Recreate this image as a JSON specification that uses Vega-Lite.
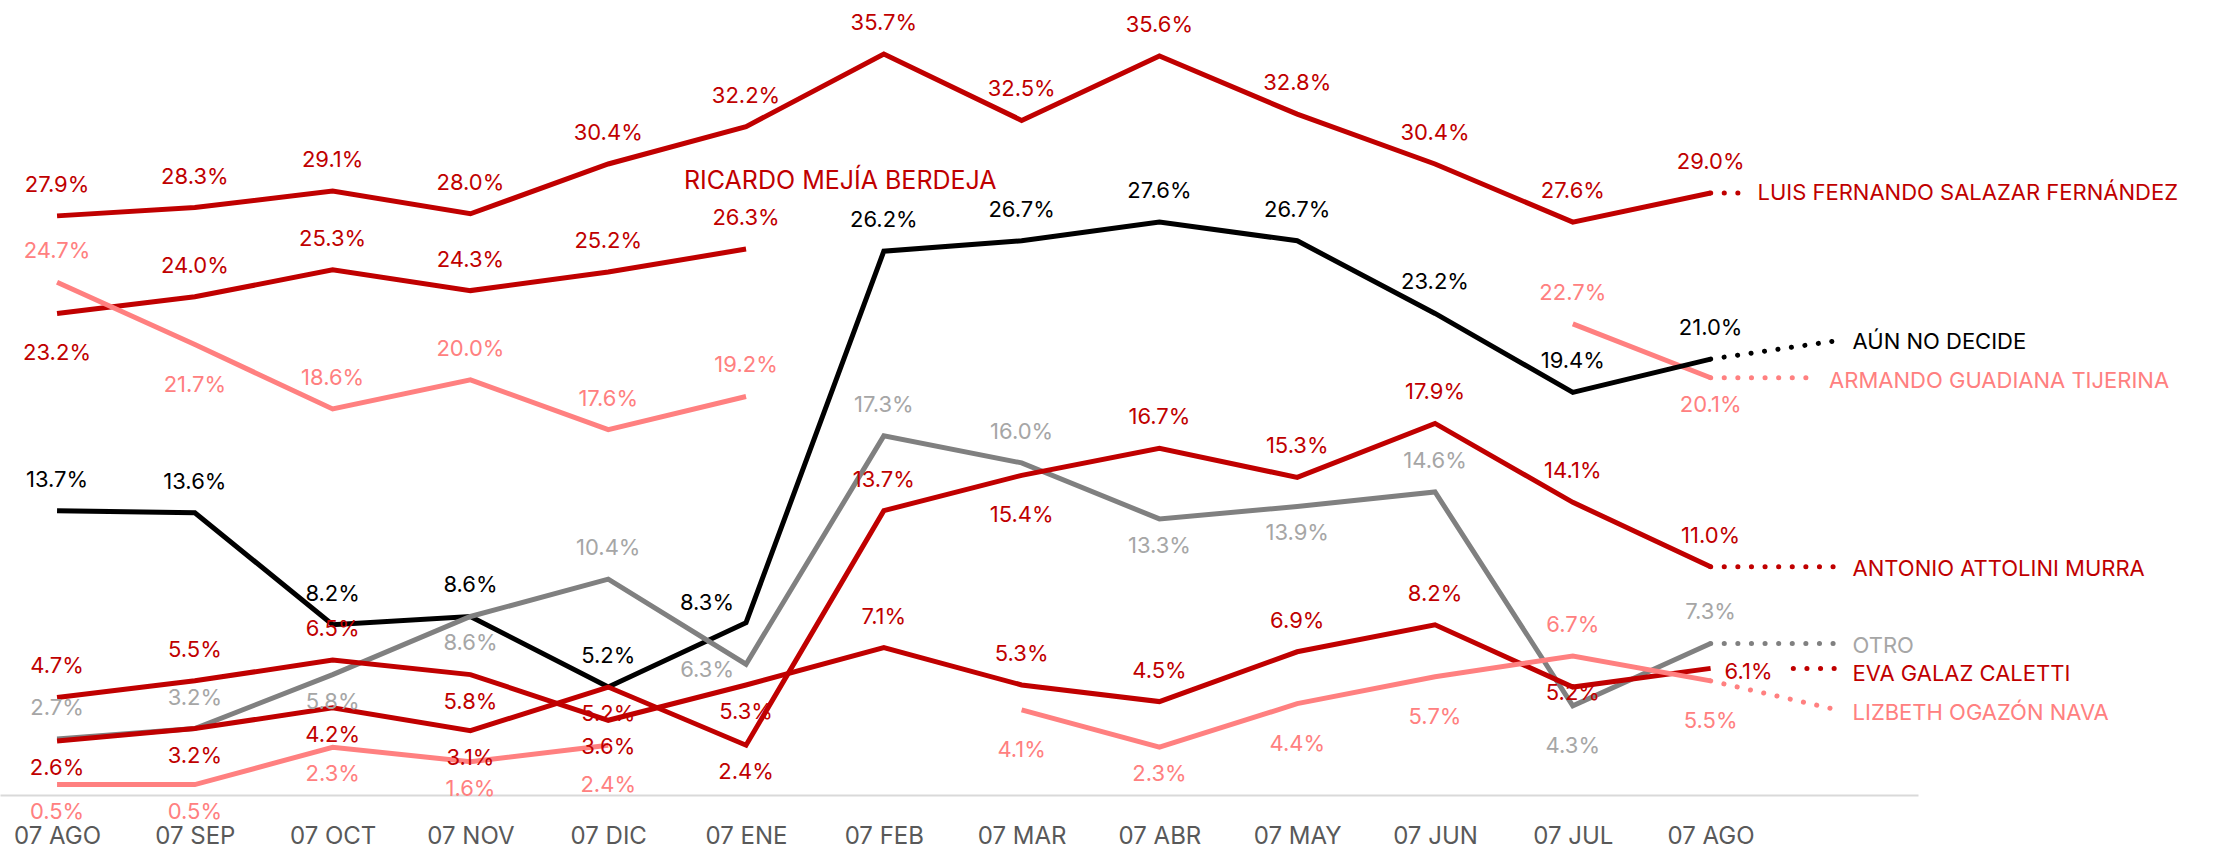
{
  "$schema": "https://vega.github.io/schema/vega-lite/v6.json",
  "width": 1918,
  "height": 795,
  "autosize": "none",
  "padding": {"left": 0, "top": 0, "right": 318, "bottom": 56},
  "background": "white",
  "config": {"view": {"stroke": null}, "font": "Inter", "text": {"font": "Inter"}},
  "datasets": {
    "polls": [
      {"s": "Luis", "i": 0, "v": 27.9, "lado": "up"},
      {"s": "Luis", "i": 1, "v": 28.3, "lado": "up"},
      {"s": "Luis", "i": 2, "v": 29.1, "lado": "up"},
      {"s": "Luis", "i": 3, "v": 28.0, "lado": "up"},
      {"s": "Luis", "i": 4, "v": 30.4, "lado": "up"},
      {"s": "Luis", "i": 5, "v": 32.2, "lado": "up"},
      {"s": "Luis", "i": 6, "v": 35.7, "lado": "up"},
      {"s": "Luis", "i": 7, "v": 32.5, "lado": "up"},
      {"s": "Luis", "i": 8, "v": 35.6, "lado": "up"},
      {"s": "Luis", "i": 9, "v": 32.8, "lado": "up"},
      {"s": "Luis", "i": 10, "v": 30.4, "lado": "up"},
      {"s": "Luis", "i": 11, "v": 27.6, "lado": "up"},
      {"s": "Luis", "i": 12, "v": 29.0, "lado": "up"},
      {"s": "Ricardo", "i": 0, "v": 23.2, "lado": "downfar"},
      {"s": "Ricardo", "i": 1, "v": 24.0, "lado": "up"},
      {"s": "Ricardo", "i": 2, "v": 25.3, "lado": "up"},
      {"s": "Ricardo", "i": 3, "v": 24.3, "lado": "up"},
      {"s": "Ricardo", "i": 4, "v": 25.2, "lado": "up"},
      {"s": "Ricardo", "i": 5, "v": 26.3, "lado": "up"},
      {"s": "Armando", "i": 0, "v": 24.7, "lado": "up"},
      {"s": "Armando", "i": 1, "v": 21.7, "lado": "downfar"},
      {"s": "Armando", "i": 2, "v": 18.6, "lado": "up"},
      {"s": "Armando", "i": 3, "v": 20.0, "lado": "up"},
      {"s": "Armando", "i": 4, "v": 17.6, "lado": "up"},
      {"s": "Armando", "i": 5, "v": 19.2, "lado": "up"},
      {"s": "Armando", "i": 6, "v": null, "lado": "up"},
      {"s": "Armando", "i": 7, "v": null, "lado": "up"},
      {"s": "Armando", "i": 8, "v": null, "lado": "up"},
      {"s": "Armando", "i": 9, "v": null, "lado": "up"},
      {"s": "Armando", "i": 10, "v": null, "lado": "up"},
      {"s": "Armando", "i": 11, "v": 22.7, "lado": "up"},
      {"s": "Armando", "i": 12, "v": 20.1, "lado": "down"},
      {"s": "Aun", "i": 0, "v": 13.7, "lado": "up"},
      {"s": "Aun", "i": 1, "v": 13.6, "lado": "up"},
      {"s": "Aun", "i": 2, "v": 8.2, "lado": "up"},
      {"s": "Aun", "i": 3, "v": 8.6, "lado": "up"},
      {"s": "Aun", "i": 4, "v": 5.2, "lado": "up"},
      {"s": "Aun", "i": 5, "v": 8.3, "lado": "upleft"},
      {"s": "Aun", "i": 6, "v": 26.2, "lado": "up"},
      {"s": "Aun", "i": 7, "v": 26.7, "lado": "up"},
      {"s": "Aun", "i": 8, "v": 27.6, "lado": "up"},
      {"s": "Aun", "i": 9, "v": 26.7, "lado": "up"},
      {"s": "Aun", "i": 10, "v": 23.2, "lado": "up"},
      {"s": "Aun", "i": 11, "v": 19.4, "lado": "up"},
      {"s": "Aun", "i": 12, "v": 21.0, "lado": "up"},
      {"s": "Otro", "i": 0, "v": 2.7, "lado": "up"},
      {"s": "Otro", "i": 1, "v": 3.2, "lado": "up"},
      {"s": "Otro", "i": 2, "v": 5.8, "lado": "down"},
      {"s": "Otro", "i": 3, "v": 8.6, "lado": "down"},
      {"s": "Otro", "i": 4, "v": 10.4, "lado": "up"},
      {"s": "Otro", "i": 5, "v": 6.3, "lado": "left"},
      {"s": "Otro", "i": 6, "v": 17.3, "lado": "up"},
      {"s": "Otro", "i": 7, "v": 16.0, "lado": "up"},
      {"s": "Otro", "i": 8, "v": 13.3, "lado": "down"},
      {"s": "Otro", "i": 9, "v": 13.9, "lado": "down"},
      {"s": "Otro", "i": 10, "v": 14.6, "lado": "up"},
      {"s": "Otro", "i": 11, "v": 4.3, "lado": "downfar"},
      {"s": "Otro", "i": 12, "v": 7.3, "lado": "up"},
      {"s": "Attolini", "i": 0, "v": 2.6, "lado": "down"},
      {"s": "Attolini", "i": 1, "v": 3.2, "lado": "down"},
      {"s": "Attolini", "i": 2, "v": 4.2, "lado": "down"},
      {"s": "Attolini", "i": 3, "v": 3.1, "lado": "down"},
      {"s": "Attolini", "i": 4, "v": 5.2, "lado": "down"},
      {"s": "Attolini", "i": 5, "v": 2.4, "lado": "down"},
      {"s": "Attolini", "i": 6, "v": 13.7, "lado": "up"},
      {"s": "Attolini", "i": 7, "v": 15.4, "lado": "downfar"},
      {"s": "Attolini", "i": 8, "v": 16.7, "lado": "up"},
      {"s": "Attolini", "i": 9, "v": 15.3, "lado": "up"},
      {"s": "Attolini", "i": 10, "v": 17.9, "lado": "up"},
      {"s": "Attolini", "i": 11, "v": 14.1, "lado": "up"},
      {"s": "Attolini", "i": 12, "v": 11.0, "lado": "up"},
      {"s": "Eva", "i": 0, "v": 4.7, "lado": "up"},
      {"s": "Eva", "i": 1, "v": 5.5, "lado": "up"},
      {"s": "Eva", "i": 2, "v": 6.5, "lado": "up"},
      {"s": "Eva", "i": 3, "v": 5.8, "lado": "down"},
      {"s": "Eva", "i": 4, "v": 3.6, "lado": "down"},
      {"s": "Eva", "i": 5, "v": 5.3, "lado": "down"},
      {"s": "Eva", "i": 6, "v": 7.1, "lado": "up"},
      {"s": "Eva", "i": 7, "v": 5.3, "lado": "up"},
      {"s": "Eva", "i": 8, "v": 4.5, "lado": "up"},
      {"s": "Eva", "i": 9, "v": 6.9, "lado": "up"},
      {"s": "Eva", "i": 10, "v": 8.2, "lado": "up"},
      {"s": "Eva", "i": 11, "v": 5.2, "lado": "on"},
      {"s": "Eva", "i": 12, "v": 6.1, "lado": "right"},
      {"s": "Lizbeth", "i": 0, "v": 0.5, "lado": "down"},
      {"s": "Lizbeth", "i": 1, "v": 0.5, "lado": "down"},
      {"s": "Lizbeth", "i": 2, "v": 2.3, "lado": "down"},
      {"s": "Lizbeth", "i": 3, "v": 1.6, "lado": "down"},
      {"s": "Lizbeth", "i": 4, "v": 2.4, "lado": "downfar"},
      {"s": "Lizbeth", "i": 5, "v": null, "lado": "down"},
      {"s": "Lizbeth", "i": 6, "v": null, "lado": "down"},
      {"s": "Lizbeth", "i": 7, "v": 4.1, "lado": "downfar"},
      {"s": "Lizbeth", "i": 8, "v": 2.3, "lado": "down"},
      {"s": "Lizbeth", "i": 9, "v": 4.4, "lado": "downfar"},
      {"s": "Lizbeth", "i": 10, "v": 5.7, "lado": "downfar"},
      {"s": "Lizbeth", "i": 11, "v": 6.7, "lado": "up"},
      {"s": "Lizbeth", "i": 12, "v": 5.5, "lado": "downfar"}
    ],
    "leaders": [
      {"s": "Luis", "i": 12, "v": 29.0},
      {"s": "Luis", "i": 12.26, "v": 29.0},
      {"s": "Aun", "i": 12, "v": 21.0},
      {"s": "Aun", "i": 12.93, "v": 21.9},
      {"s": "Armando", "i": 12, "v": 20.1},
      {"s": "Armando", "i": 12.77, "v": 20.1},
      {"s": "Attolini", "i": 12, "v": 11.0},
      {"s": "Attolini", "i": 12.94, "v": 11.0},
      {"s": "Otro", "i": 12, "v": 7.3},
      {"s": "Otro", "i": 12.94, "v": 7.3},
      {"s": "Eva", "i": 12.6, "v": 6.1},
      {"s": "Eva", "i": 12.94, "v": 6.1},
      {"s": "Lizbeth", "i": 12, "v": 5.5},
      {"s": "Lizbeth", "i": 12.92, "v": 4.1}
    ],
    "names": [
      {"s": "Luis", "i": 12.34, "v": 29.0, "nombre": "LUIS FERNANDO SALAZAR FERNÁNDEZ"},
      {"s": "Aun", "i": 13.03, "v": 21.8, "nombre": "AÚN NO DECIDE"},
      {"s": "Armando", "i": 12.86, "v": 19.95, "nombre": "ARMANDO GUADIANA TIJERINA"},
      {"s": "Attolini", "i": 13.03, "v": 10.9, "nombre": "ANTONIO ATTOLINI MURRA"},
      {"s": "Otro", "i": 13.03, "v": 7.2, "nombre": "OTRO"},
      {"s": "Eva", "i": 13.03, "v": 5.85, "nombre": "EVA GALAZ CALETTI"},
      {"s": "Lizbeth", "i": 13.03, "v": 3.95, "nombre": "LIZBETH OGAZÓN NAVA"},
      {"s": "Ricardo", "i": 4.55, "v": 29.6, "nombre": "RICARDO MEJÍA BERDEJA"}
    ]
  },
  "layer": [
    {
      "data": {"name": "polls"},
      "mark": {"type": "line", "strokeWidth": 5, "strokeJoin": "miter", "invalid": "break-paths-show-domains"},
      "encoding": {
        "x": {"field": "i", "type": "quantitative",
          "scale": {"domain": [-0.414, 13.505], "nice": false, "zero": false},
          "axis": {"title": null, "values": [0,1,2,3,4,5,6,7,8,9,10,11,12],
            "labelExpr": "['07 AGO','07 SEP','07 OCT','07 NOV','07 DIC','07 ENE','07 FEB','07 MAR','07 ABR','07 MAY','07 JUN','07 JUL','07 AGO'][datum.value]",
            "grid": false, "ticks": false, "domainColor": "#d9d9d9", "domainWidth": 2,
            "labelFont": "Inter", "labelFontSize": 24, "labelColor": "#595959", "labelPadding": 29,
            "labelOverlap": false, "labelFlush": false}},
        "y": {"field": "v", "type": "quantitative",
          "scale": {"domain": [0, 38.3], "nice": false, "zero": false}, "axis": null},
        "stroke": {"field": "s", "type": "nominal", "legend": null,
          "scale": {"domain": ["Luis", "Ricardo", "Armando", "Aun", "Otro", "Attolini", "Eva", "Lizbeth"],
            "range": ["#c00000", "#c00000", "#ff8080", "#000000", "#808080", "#c00000", "#c00000", "#ff8080"]}}
      }
    },
    {
      "data": {"name": "leaders"},
      "mark": {"type": "line", "strokeWidth": 5, "strokeCap": "round", "strokeDash": [0.1, 13.5]},
      "encoding": {
        "x": {"field": "i", "type": "quantitative"},
        "y": {"field": "v", "type": "quantitative"},
        "stroke": {"field": "s", "type": "nominal", "legend": null},
        "detail": {"field": "s"}
      }
    },
    {
      "data": {"name": "polls"},
      "transform": [
        {"filter": "datum.v != null && datum.lado == 'up'"},
        {"calculate": "format(datum.v, '.1f') + '%'", "as": "lbl"}
      ],
      "mark": {"type": "text", "baseline": "middle", "align": "center", "dy": -31, "fontSize": 22},
      "encoding": {
        "x": {"field": "i", "type": "quantitative"},
        "y": {"field": "v", "type": "quantitative"},
        "text": {"field": "lbl"},
        "fill": {"field": "s", "type": "nominal", "legend": null,
          "scale": {"domain": ["Luis", "Ricardo", "Armando", "Aun", "Otro", "Attolini", "Eva", "Lizbeth"],
            "range": ["#c00000", "#c00000", "#ff8080", "#000000", "#a6a6a6", "#c00000", "#c00000", "#ff8080"]}}
      }
    },
    {
      "data": {"name": "polls"},
      "transform": [
        {"filter": "datum.v != null && datum.lado == 'down'"},
        {"calculate": "format(datum.v, '.1f') + '%'", "as": "lbl"}
      ],
      "mark": {"type": "text", "baseline": "middle", "align": "center", "dy": 27, "fontSize": 22},
      "encoding": {
        "x": {"field": "i", "type": "quantitative"},
        "y": {"field": "v", "type": "quantitative"},
        "text": {"field": "lbl"},
        "fill": {"field": "s", "type": "nominal", "legend": null}
      }
    },
    {
      "data": {"name": "polls"},
      "transform": [
        {"filter": "datum.v != null && datum.lado == 'downfar'"},
        {"calculate": "format(datum.v, '.1f') + '%'", "as": "lbl"}
      ],
      "mark": {"type": "text", "baseline": "middle", "align": "center", "dy": 40, "fontSize": 22},
      "encoding": {
        "x": {"field": "i", "type": "quantitative"},
        "y": {"field": "v", "type": "quantitative"},
        "text": {"field": "lbl"},
        "fill": {"field": "s", "type": "nominal", "legend": null}
      }
    },
    {
      "data": {"name": "polls"},
      "transform": [
        {"filter": "datum.v != null && datum.lado == 'on'"},
        {"calculate": "format(datum.v, '.1f') + '%'", "as": "lbl"}
      ],
      "mark": {"type": "text", "baseline": "middle", "align": "center", "dy": 6, "fontSize": 22},
      "encoding": {
        "x": {"field": "i", "type": "quantitative"},
        "y": {"field": "v", "type": "quantitative"},
        "text": {"field": "lbl"},
        "fill": {"field": "s", "type": "nominal", "legend": null}
      }
    },
    {
      "data": {"name": "polls"},
      "transform": [
        {"filter": "datum.v != null && datum.lado == 'left'"},
        {"calculate": "format(datum.v, '.1f') + '%'", "as": "lbl"}
      ],
      "mark": {"type": "text", "baseline": "middle", "align": "right", "dx": -12, "dy": 6, "fontSize": 22},
      "encoding": {
        "x": {"field": "i", "type": "quantitative"},
        "y": {"field": "v", "type": "quantitative"},
        "text": {"field": "lbl"},
        "fill": {"field": "s", "type": "nominal", "legend": null}
      }
    },
    {
      "data": {"name": "polls"},
      "transform": [
        {"filter": "datum.v != null && datum.lado == 'upleft'"},
        {"calculate": "format(datum.v, '.1f') + '%'", "as": "lbl"}
      ],
      "mark": {"type": "text", "baseline": "middle", "align": "right", "dx": -12, "dy": -20, "fontSize": 22},
      "encoding": {
        "x": {"field": "i", "type": "quantitative"},
        "y": {"field": "v", "type": "quantitative"},
        "text": {"field": "lbl"},
        "fill": {"field": "s", "type": "nominal", "legend": null}
      }
    },
    {
      "data": {"name": "polls"},
      "transform": [
        {"filter": "datum.v != null && datum.lado == 'right'"},
        {"calculate": "format(datum.v, '.1f') + '%'", "as": "lbl"}
      ],
      "mark": {"type": "text", "baseline": "middle", "align": "left", "dx": 14, "dy": 4, "fontSize": 22},
      "encoding": {
        "x": {"field": "i", "type": "quantitative"},
        "y": {"field": "v", "type": "quantitative"},
        "text": {"field": "lbl"},
        "fill": {"field": "s", "type": "nominal", "legend": null}
      }
    },
    {
      "data": {"name": "names"},
      "transform": [{"filter": "datum.s != 'Ricardo'"}],
      "mark": {"type": "text", "baseline": "middle", "align": "left", "fontSize": 22},
      "encoding": {
        "x": {"field": "i", "type": "quantitative"},
        "y": {"field": "v", "type": "quantitative"},
        "text": {"field": "nombre"},
        "fill": {"field": "s", "type": "nominal", "legend": null}
      }
    },
    {
      "data": {"name": "names"},
      "transform": [{"filter": "datum.s == 'Ricardo'"}],
      "mark": {"type": "text", "baseline": "middle", "align": "left", "fontSize": 25},
      "encoding": {
        "x": {"field": "i", "type": "quantitative"},
        "y": {"field": "v", "type": "quantitative"},
        "text": {"field": "nombre"},
        "fill": {"field": "s", "type": "nominal", "legend": null}
      }
    }
  ]
}
